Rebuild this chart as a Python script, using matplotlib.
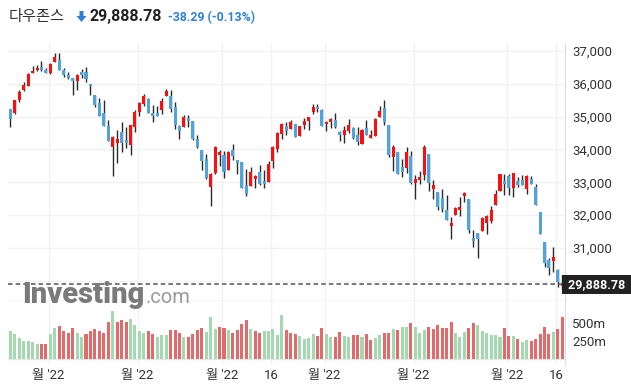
import matplotlib
matplotlib.use("Agg")
import matplotlib.pyplot as plt
from matplotlib.patches import Polygon
from matplotlib.transforms import blended_transform_factory
import numpy as np

# ---------------- data ----------------
title_name = "다우존스"
last_price_text = "29,888.78"
change_text = "-38.29 (-0.13%)"

opens = [35239, 35107, 35504, 35799, 35951, 36318, 36410, 36522, 36410, 36318,
         36654, 36735, 36430, 36267, 36186, 36074, 36348, 36348, 36002, 35666,
         35422, 35117, 34720, 34088, 34211, 34536, 34292, 34150, 34699, 35147,
         35402, 35534, 35117, 35117, 35198, 35616, 35636, 35290, 34720, 34699,
         34974, 34872, 34323, 33995, 33708, 32856, 33287, 33841, 33831, 33369,
         33985, 33667, 33605, 32908, 32887, 33103, 33308, 33031, 33010, 33656,
         34015, 34487, 34703, 34620, 34785, 34426, 34733, 34856, 35133, 35308,
         35205, 34764, 34826, 34908, 34538, 34456, 34579, 34662, 34446, 34179,
         34662, 34364, 34426, 34980, 35275, 34755, 33766, 33929, 33470, 33450,
         33807, 32991, 33082, 33215, 33868, 32807, 32705, 32521, 32164, 31675,
         32011, 32164, 32593, 32491, 31308, 31451, 31522, 31767, 31828, 32297,
         32736, 33042, 33195, 32838, 33042, 33072, 32807, 33093, 32858, 32093,
         31175, 30624, 30594, 30339, 29849]
highs = [35239, 35524, 35809, 36063, 36318, 36542, 36572, 36695, 36471, 36623,
         36949, 36949, 36471, 36369, 36186, 36287, 36450, 36511, 36002, 35666,
         35575, 35504, 34903, 34404, 34587, 34832, 34679, 34750, 35198, 35463,
         35697, 35555, 35351, 35320, 35555, 35840, 35809, 35453, 34760, 35056,
         35046, 34872, 34446, 33995, 33862, 33277, 34097, 33974, 33944, 33964,
         34179, 33667, 33605, 33410, 33462, 33236, 33523, 33390, 33636, 34097,
         34528, 34805, 34846, 34897, 34785, 34723, 34969, 35000, 35390, 35390,
         35226, 34867, 34969, 35123, 34559, 34703, 34928, 34692, 34692, 34621,
         34897, 34590, 34959, 35326, 35510, 34755, 34133, 33929, 33705, 34072,
         33949, 33235, 33358, 34133, 33868, 33062, 32705, 32787, 32603, 31940,
         32246, 32542, 32705, 32491, 31532, 31451, 31930, 32011, 32266, 32776,
         33266, 33266, 33266, 33297, 33164, 33215, 33215, 33184, 32960, 32093,
         31175, 30696, 31042, 30359, 30175]
lows = [34679, 35096, 35442, 35778, 35951, 36318, 36399, 36389, 36318, 36287,
        36654, 36410, 36206, 36135, 35656, 35799, 36165, 36063, 35656, 35290,
        35035, 34710, 34251, 33183, 33580, 33915, 34048, 33824, 34526, 35015,
        35320, 35107, 34832, 35015, 35096, 35616, 35137, 34638, 34333, 34699,
        34679, 34282, 34046, 33380, 33103, 32282, 33267, 33492, 33144, 33369,
        33667, 33256, 32826, 32590, 32887, 32836, 32928, 32826, 33010, 33431,
        33913, 34323, 34436, 34620, 34374, 34426, 34620, 34590, 35072, 35133,
        34713, 34559, 34641, 34641, 34272, 34210, 34508, 34323, 34128, 34159,
        34456, 34344, 34426, 34980, 34745, 33786, 33358, 33266, 33154, 33286,
        32940, 32481, 32940, 33062, 32725, 32501, 32144, 32093, 31858, 31267,
        32011, 31960, 32399, 31461, 31042, 30685, 31522, 31420, 31767, 32297,
        32736, 32603, 32603, 32542, 32858, 32920, 32654, 32940, 32297, 31430,
        30410, 30186, 30257, 29798, 29716]
closes = [34944, 35504, 35768, 35972, 36308, 36399, 36491, 36410, 36318, 36613,
          36827, 36410, 36257, 36186, 36074, 36267, 36257, 36135, 35921, 35371,
          35035, 34730, 34272, 34374, 34313, 34190, 34190, 34750, 35147, 35422,
          35636, 35127, 35035, 35035, 35473, 35789, 35239, 34760, 34577, 34995,
          34883, 34333, 34077, 33636, 33123, 33246, 34077, 33923, 33318, 33923,
          33810, 33595, 32826, 32641, 33308, 33185, 32949, 32949, 33564, 34077,
          34508, 34785, 34569, 34846, 34374, 34723, 34877, 34979, 35308, 35226,
          34713, 34846, 34928, 34672, 34456, 34600, 34754, 34344, 34241, 34600,
          34456, 34446, 34938, 35184, 34827, 33837, 34082, 33266, 33317, 33929,
          32991, 33093, 33164, 34082, 32991, 32909, 32256, 32195, 31858, 31756,
          32215, 32246, 32674, 31532, 31216, 31277, 31909, 31971, 32154, 32654,
          33246, 32960, 32838, 33276, 32920, 32920, 33195, 32940, 32297, 31430,
          30543, 30379, 30716, 29971, 29889]

# volume in millions
volumes = [395, 353, 292, 254, 254, 235, 207, 212, 212, 353,
           433, 466, 391, 367, 433, 367, 306, 353, 391, 419,
           391, 367, 518, 673, 518, 546, 518, 560, 480, 391,
           367, 391, 353, 315, 334, 334, 405, 405, 367, 306,
           306, 353, 405, 433, 377, 593, 419, 452, 433, 405,
           367, 405, 494, 546, 419, 391, 367, 391, 391, 419,
           339, 617, 405, 367, 353, 320, 278, 292, 353, 320,
           433, 353, 306, 306, 377, 320, 306, 334, 334, 306,
           353, 264, 292, 334, 367, 367, 419, 405, 452, 452,
           504, 452, 367, 405, 452, 419, 480, 433, 433, 518,
           367, 306, 377, 433, 504, 480, 391, 367, 334, 334,
           306, 433, 320, 320, 278, 235, 264, 250, 278, 353,
           447, 353, 372, 419, 589]
vol_dir = list("gggggggrrggrrrrggrrrrrrgrrrggggrrgggrrrgrrrrgggrrgrrrrgrrgggggrrrggggr"
               "rggrrggrrgrrggrrgrggrgggrrrrrrgggrrggggggrrgrggrrrrrgrr")

tick_idx = [9, 29, 48, 59, 71, 91, 112, 123]
tick_labels = ["월 '22", "월 '22", "월 '22", "16", "월 '22", "월 '22", "월 '22", "16"]
price_ticks = [31000, 32000, 33000, 34000, 35000, 36000, 37000]
vol_ticks = [250, 500]
vol_tick_labels = ["250m", "500m"]

# ---------------- styling ----------------
W, H = 631, 389
RED = "#ff0d0d"
BLUE = "#4ea4dc"
WICK = "#2a2a2a"
VGREEN = "#a3d8b1"
VRED = "#e36a6a"
GRID = "#f2f2f2"
TXT = "#333333"

plt.rcParams['font.family'] = ['Roboto', 'Noto Sans CJK KR', 'DejaVu Sans']

fig = plt.figure(figsize=(W / 100, H / 100), dpi=100)
fig.patch.set_facecolor("white")


def rect(l, t, r, b):
    return [l / W, 1 - b / H, (r - l) / W, (b - t) / H]


ax = fig.add_axes(rect(8, 43, 565, 301))
axv = fig.add_axes(rect(8, 301, 565, 365), sharex=ax)

o = np.array(opens, float)
h = np.array(highs, float)
lo = np.array(lows, float)
c = np.array(closes, float)
x = np.arange(len(o))
up = c > o
body_bottom = np.minimum(o, c)
body_h = np.maximum(np.abs(c - o), 28)
colors = np.where(up, RED, BLUE)

ax.vlines(x, lo, h, color=WICK, lw=1.0, zorder=3)
ax.bar(x, body_h, bottom=body_bottom, width=0.68, color=colors, zorder=4,
       linewidth=0)

ax.set_xlim(-0.52, 124.6)
ax.set_ylim(29381, 37247)
ax.set_yticks(price_ticks)
ax.set_yticklabels([f"{v:,}" for v in price_ticks])
ax.yaxis.tick_right()
ax.tick_params(axis='y', length=0, pad=5, labelsize=9.5, labelcolor=TXT)
ax.tick_params(axis='x', length=0, labelbottom=False)
for v in price_ticks + [30000]:
    ax.axhline(v, color=GRID, lw=1.0, zorder=1)
ticks_x = np.array(tick_idx) - 0.4
for t in ticks_x:
    ax.axvline(t, color=GRID, lw=1.0, zorder=1)
for s in ['top', 'left']:
    ax.spines[s].set_visible(False)
ax.spines['right'].set_color('#d9dce1')
ax.spines['bottom'].set_color('#cccccc')
ax.spines['bottom'].set_linewidth(1.0)

# last price dashed line and label box
ax.axhline(c[-1], color='#555555', lw=1.1, dashes=(3, 2), zorder=5)
trans = blended_transform_factory(ax.transAxes, ax.transData)
ax.text(1.0, c[-1], " " + last_price_text + " ", transform=trans, ha='left',
        va='center', color='white', fontsize=9, fontweight='bold',
        bbox=dict(boxstyle='square,pad=0.25', fc='#222222', ec='none'),
        clip_on=False, zorder=10)

# volume
vcol = [VGREEN if d == 'g' else VRED for d in vol_dir]
axv.bar(x, volumes, width=0.68, color=vcol, linewidth=0, zorder=3)
axv.set_ylim(-84, 812)
axv.axhline(0, color='#e6e6e6', lw=1.0, zorder=2)
for t in ticks_x:
    axv.axvline(t, color=GRID, lw=1.0, zorder=1)
axv.set_yticks(vol_ticks)
axv.set_yticklabels(vol_tick_labels)
axv.yaxis.tick_right()
axv.tick_params(axis='y', length=0, pad=5, labelsize=9.5, labelcolor=TXT)
axv.set_xticks(ticks_x)
axv.set_xticklabels(tick_labels, fontsize=9.5, color=TXT)
axv.tick_params(axis='x', length=0, pad=3)
for s in ['top', 'left', 'bottom']:
    axv.spines[s].set_visible(False)
axv.spines['right'].set_color('#d9dce1')

# header
fig.text(9 / W, 1 - 17 / H, title_name, fontsize=11, color=TXT, va='center',
         ha='left', family=['Noto Sans CJK KR', 'DejaVu Sans'])
arrow = [(79.5, 11), (83.5, 11), (83.5, 16), (86.5, 16), (81.5, 22),
         (76.5, 16), (79.5, 16)]
fig.add_artist(Polygon([(px / W, 1 - py / H) for px, py in arrow],
                       closed=True, fc='#2f7fd6', ec='none',
                       transform=fig.transFigure))
fig.text(90 / W, 1 - 17 / H, last_price_text, fontsize=11.5, fontweight='bold',
         color='#222222', va='center', ha='left')
fig.text(168 / W, 1 - 17.5 / H, change_text, fontsize=8.8, fontweight='bold',
         color='#2f7fd6', va='center', ha='left')

# watermark logo
logo = fig.text(22 / W, 1 - 303 / H, "Investing", fontsize=21, fontweight='black',
                color='#7a7a7a', va='baseline', ha='left', zorder=6)
renderer = fig.canvas.get_renderer()
bb = logo.get_window_extent(renderer=renderer)
fig.text((bb.x1 + 1) / W, 1 - 303 / H, ".com", fontsize=14.5, color='#9a9a9a',
         va='baseline', ha='left', zorder=6)

fig.savefig("out.png", dpi=100, facecolor="white")
